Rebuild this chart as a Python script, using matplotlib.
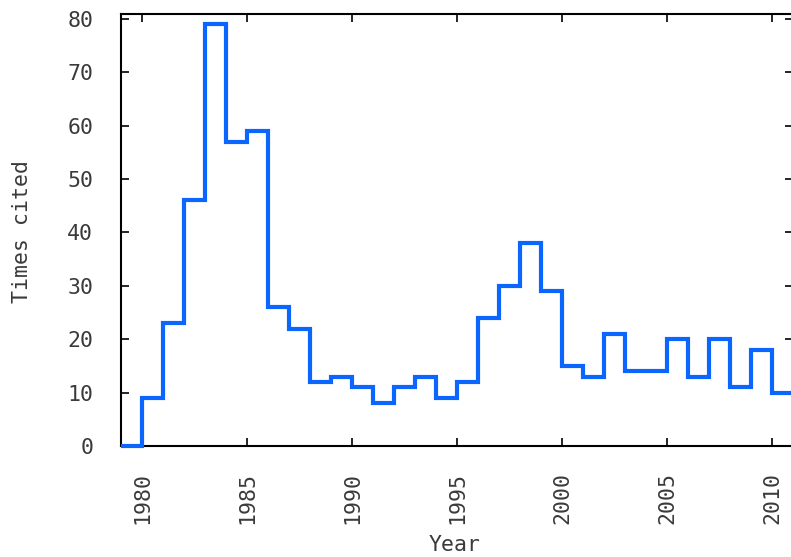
import numpy as np
import matplotlib
matplotlib.use("Agg")
import matplotlib.pyplot as plt

# citations per year (step drawn from year to year+1)
years = list(range(1979, 2011))
cites = [0, 9, 23, 46, 79, 57, 59, 26, 22, 12, 13, 11, 8, 11, 13, 9,
         12, 24, 30, 38, 29, 15, 13, 21, 14, 14, 20, 13, 20, 11, 18, 10]
xticks = [1980, 1985, 1990, 1995, 2000, 2005, 2010]
yticks = [0, 10, 20, 30, 40, 50, 60, 70, 80]

W, H = 791, 557
fig = plt.figure(figsize=(W / 100, H / 100), dpi=100)
ax = fig.add_axes([121 / W, 1 - 446 / H, (793 - 121) / W, (446 - 14) / H])

edges = years + [years[-1] + 1]
ax.stairs(cites, edges, baseline=None, color="#0a66ff", lw=3.0, clip_on=False, zorder=3)

ax.set_xlim(1979, 2011)
ax.set_ylim(0, 80.9)
ax.set_xticks(xticks)
ax.set_yticks(yticks)

txt = "#3a3a3a"
mono = "DejaVu Sans Mono"
ax.tick_params(direction="in", length=6, width=1.2, top=True, right=True,
               labelsize=15.5, labelcolor=txt)
ax.tick_params(axis="y", pad=20)
ax.tick_params(axis="x", labelrotation=90, pad=19)
for lab in ax.get_xticklabels() + ax.get_yticklabels():
    lab.set_fontfamily(mono)
for s in ax.spines.values():
    s.set_linewidth(1.5)

fig.text(455 / W, 1 - 545 / H, "Year", ha="center", va="center",
         fontsize=15.5, color=txt, family=mono)
fig.text(22 / W, 1 - 232 / H, "Times cited", ha="center", va="center",
         rotation=90, fontsize=15.5, color=txt, family=mono)

fig.savefig("out.png", dpi=100)
